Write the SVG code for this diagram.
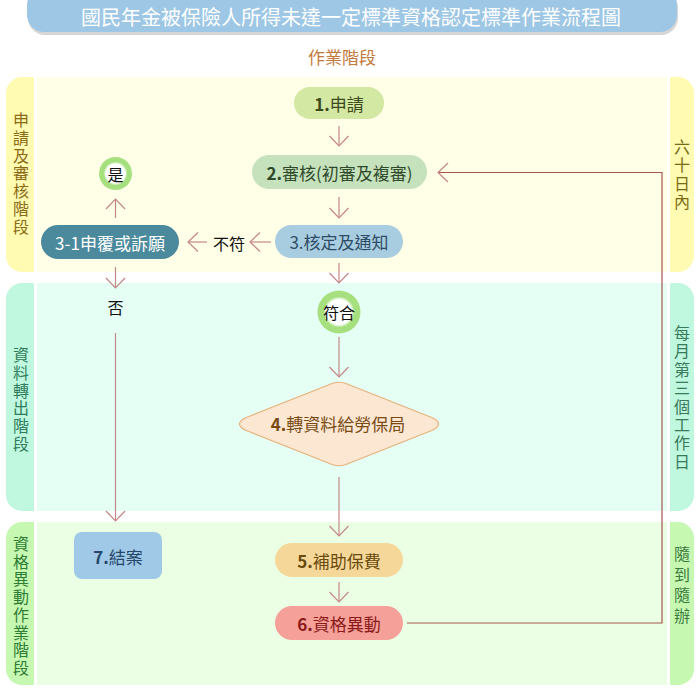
<svg xmlns="http://www.w3.org/2000/svg" width="700" height="700" viewBox="0 0 700 700">
<defs>
<style>
text{font-family:"Noto Sans CJK TC","Liberation Sans",sans-serif;dominant-baseline:central;text-anchor:middle}
.title{font-size:20px;fill:#ffffff}
.phase{font-size:17px;fill:#c27a3c}
.lbl{font-size:16px}
.vert{font-size:16px;writing-mode:tb;text-anchor:start}
.node{font-size:17px}
.arr{fill:none;stroke:#c48787;stroke-width:1.2}
.loop{fill:none;stroke:#a8564e;stroke-width:1.2}
</style>
<marker id="ah" markerUnits="userSpaceOnUse" markerWidth="24" markerHeight="24" refX="12" refY="12" orient="auto" viewBox="0 0 24 24">
<path d="M2,2.5 L12,12 L2,21.5" fill="none" stroke="#c48787" stroke-width="1.2"/>
</marker>
<radialGradient id="ring">
<stop offset="0" stop-color="#ffffff"/>
<stop offset="0.58" stop-color="#ffffff"/>
<stop offset="0.72" stop-color="#a6e07e"/>
<stop offset="1" stop-color="#a6e07e"/>
</radialGradient>
</defs>

<g id="title">
<rect x="28" y="-9" width="650" height="44" rx="17" fill="#8a8a8a" opacity="0.35"/>
<rect x="27" y="-12" width="650" height="44" rx="17" fill="#9ec7e5"/>
<text class="title" x="351" y="16">國民年金被保險人所得未達一定標準資格認定標準作業流程圖</text>
</g>
<text class="phase" x="342" y="56">作業階段</text>

<g id="lane1">
<rect x="37" y="77" width="630" height="195" fill="#fffee7"/>
<path d="M34,77 H22 A16,16 0 0 0 6,93 V256 A16,16 0 0 0 22,272 H34 Z" fill="#fffbb2"/>
<path d="M670,77 H678 A16,16 0 0 1 694,93 V256 A16,16 0 0 1 678,272 H670 Z" fill="#fffbb2"/>
<text class="vert" x="21" y="112" letter-spacing="1.8" fill="#8a6a14">申請及審核階段</text>
<text class="vert" x="682" y="139" letter-spacing="2.3" fill="#7a6a14">六十日內</text>
</g>

<g id="lane2">
<rect x="37" y="283" width="630" height="228" fill="#e6fff5"/>
<path d="M34,283 H22 A16,16 0 0 0 6,299 V495 A16,16 0 0 0 22,511 H34 Z" fill="#bff8df"/>
<path d="M670,283 H678 A16,16 0 0 1 694,299 V495 A16,16 0 0 1 678,511 H670 Z" fill="#bff8df"/>
<text class="vert" x="21" y="347" letter-spacing="1.8" fill="#2f7d5c">資料轉出階段</text>
<text class="vert" x="682" y="325" letter-spacing="2.4" fill="#3a7a5c">每月第三個工作日</text>
</g>

<g id="lane3">
<rect x="37" y="522" width="630" height="163" fill="#ebffe5"/>
<path d="M34,522 H22 A16,16 0 0 0 6,538 V669 A16,16 0 0 0 22,685 H34 Z" fill="#c6f8b2"/>
<path d="M670,522 H678 A16,16 0 0 1 694,538 V669 A16,16 0 0 1 678,685 H670 Z" fill="#c6f8b2"/>
<text class="vert" x="21" y="536" letter-spacing="1.7" fill="#2f7d34">資格異動作業階段</text>
<text class="vert" x="682" y="546" letter-spacing="4.5" fill="#3a7a3c">隨到隨辦</text>
</g>

<g id="connectors">
<line class="arr" x1="339" y1="126" x2="339" y2="146" marker-end="url(#ah)"/>
<line class="arr" x1="339" y1="197" x2="339" y2="218" marker-end="url(#ah)"/>
<line class="arr" x1="339" y1="263" x2="339" y2="283" marker-end="url(#ah)"/>
<line class="arr" x1="271" y1="242" x2="250" y2="242" marker-end="url(#ah)"/>
<line class="arr" x1="207" y1="242" x2="188" y2="242" marker-end="url(#ah)"/>
<line class="arr" x1="115.5" y1="218" x2="115.5" y2="199" marker-end="url(#ah)"/>
<line class="arr" x1="115.5" y1="267" x2="115.5" y2="288" marker-end="url(#ah)"/>
<line class="arr" x1="115.5" y1="333" x2="115.5" y2="521" marker-end="url(#ah)"/>
<line class="arr" x1="339" y1="337" x2="339" y2="377" marker-end="url(#ah)"/>
<line class="arr" x1="339" y1="477" x2="339" y2="536" stroke="#a8605a" marker-end="url(#ah)"/>
<line class="arr" x1="339" y1="582" x2="339" y2="602" marker-end="url(#ah)"/>
<polyline class="loop" points="407,623 662,623 662,172.5 438,172.5" marker-end="url(#ah)"/>
</g>

<g id="n1">
<rect x="294" y="87" width="90" height="32" rx="16" fill="#d3e8a3"/>
<text class="node" x="339" y="103" fill="#3d4a1c"><tspan font-weight="bold">1.</tspan>申請</text>
</g>
<g id="n2">
<rect x="252" y="155" width="175" height="34" rx="17" fill="#c6e2bd"/>
<text class="node" x="339.5" y="172" fill="#2f4a2b"><tspan font-weight="bold">2.</tspan>審核(初審及複審)</text>
</g>
<g id="n3">
<rect x="275" y="225" width="128" height="33" rx="16.5" fill="#a9cde0"/>
<text class="node" x="339" y="241.5" fill="#2e4c66">3.核定及通知</text>
</g>
<g id="n31">
<rect x="41" y="225" width="138" height="34" rx="17" fill="#4b8a9c"/>
<text class="node" x="110" y="242" fill="#ffffff">3-1申覆或訴願</text>
</g>
<g id="yes">
<circle cx="115.5" cy="173.5" r="16.5" fill="url(#ring)"/>
<text class="lbl" x="115.5" y="173.5" fill="#111111">是</text>
</g>
<g id="no">
<text class="lbl" x="115.5" y="307" fill="#111111">否</text>
</g>
<g id="notmatch">
<text class="lbl" x="229" y="243" fill="#111111">不符</text>
</g>
<g id="match">
<circle cx="339" cy="312" r="21.5" fill="url(#ring)"/>
<text class="lbl" x="339" y="312" fill="#111111">符合</text>
</g>
<g id="n4">
<path d="M245,418 L332,383.5 Q339,381 346,383.5 L433,418 Q444,424 433,430 L346,464.5 Q339,467 332,464.5 L245,430 Q234,424 245,418 Z" fill="#fbe7d2" stroke="#e6b27c" stroke-width="1.2"/>
<text class="node" x="338" y="423" fill="#7a4a14"><tspan font-weight="bold">4.</tspan>轉資料給勞保局</text>
</g>
<g id="n5">
<rect x="275" y="543" width="128" height="34" rx="17" fill="#f5d899"/>
<text class="node" x="339" y="560" fill="#6a4a0c"><tspan font-weight="bold">5.</tspan>補助保費</text>
</g>
<g id="n6">
<rect x="275" y="606" width="128" height="34" rx="17" fill="#f5a098"/>
<text class="node" x="339" y="623" fill="#8b1a1a"><tspan font-weight="bold">6.</tspan>資格異動</text>
</g>
<g id="n7">
<rect x="74" y="532" width="88" height="47" rx="8" fill="#9fc9e7"/>
<text class="node" x="118" y="556" fill="#26476a"><tspan font-weight="bold">7.</tspan>結案</text>
</g>
</svg>
